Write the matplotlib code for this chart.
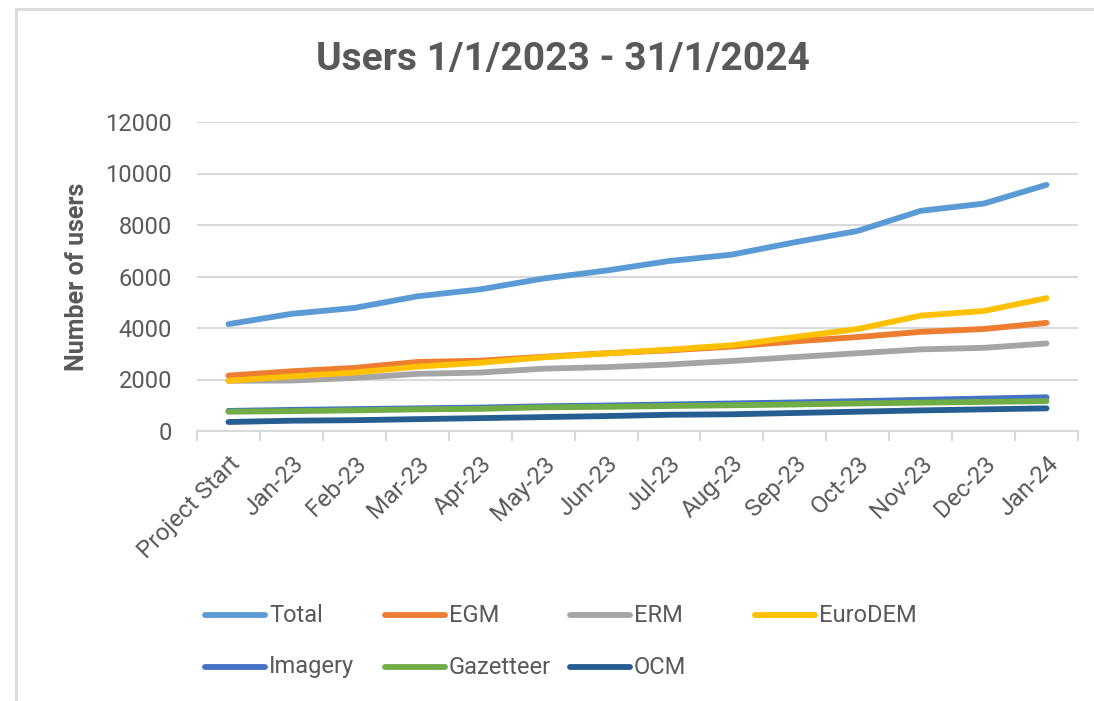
import matplotlib
matplotlib.use("Agg")
import matplotlib.pyplot as plt
from matplotlib.lines import Line2D

plt.rcParams["font.family"] = ["Roboto", "DejaVu Sans"]

# ---------------------------------------------------------------------------
# Data
# ---------------------------------------------------------------------------
months = ["Project Start", "Jan-23", "Feb-23", "Mar-23", "Apr-23", "May-23",
          "Jun-23", "Jul-23", "Aug-23", "Sep-23", "Oct-23", "Nov-23",
          "Dec-23", "Jan-24"]

total     = [4150, 4550, 4780, 5230, 5500, 5920, 6230, 6600, 6850, 7330,
             7770, 8550, 8830, 9560]
egm       = [2150, 2320, 2450, 2680, 2730, 2880, 3020, 3130, 3280, 3480,
             3650, 3850, 3960, 4200]
erm       = [1950, 1960, 2060, 2220, 2270, 2420, 2480, 2580, 2720, 2870,
             3020, 3170, 3230, 3400]
eurodem   = [1950, 2120, 2270, 2500, 2650, 2860, 3010, 3160, 3330, 3650,
             3960, 4480, 4660, 5160]
imagery   = [780, 820, 850, 880, 910, 960, 990, 1030, 1070, 1110, 1160,
             1210, 1260, 1310]
gazetteer = [750, 770, 800, 840, 860, 920, 940, 970, 1000, 1030, 1070,
             1100, 1130, 1160]
ocm       = [350, 400, 420, 460, 500, 540, 580, 630, 650, 700, 750, 800,
             840, 880]

series = [("Total", total, "#5B9BD5"),
          ("EGM", egm, "#ED7D31"),
          ("ERM", erm, "#A5A5A5"),
          ("EuroDEM", eurodem, "#FFC000"),
          ("Imagery", imagery, "#4472C4"),
          ("Gazetteer", gazetteer, "#70AD47"),
          ("OCM", ocm, "#255E91")]

TEXT = "#595959"
GRID = "#D9D9D9"

# ---------------------------------------------------------------------------
# Figure
# ---------------------------------------------------------------------------
W, H = 1094, 701
fig = plt.figure(figsize=(W / 100, H / 100), dpi=100)
ax = fig.add_axes([197 / W, 1 - 431 / H, (1078 - 197) / W, (431 - 122) / H])

x = list(range(len(months)))
for name, vals, color in series:
    ax.plot(x, vals, color=color, lw=4.2, solid_capstyle="round",
            solid_joinstyle="round", label=name)

ax.set_xlim(-0.5, len(months) - 0.5)
ax.set_ylim(0, 12000)
ax.set_yticks(range(0, 12001, 2000))
ax.grid(axis="y", color=GRID, lw=1.5)
ax.set_axisbelow(True)
for s in ["top", "right", "left"]:
    ax.spines[s].set_visible(False)
ax.spines["bottom"].set_color(GRID)
ax.spines["bottom"].set_linewidth(1.5)

ax.tick_params(axis="y", length=0, pad=18, labelsize=17, labelcolor=TEXT)
ax.set_xticks(x)
ax.set_xticklabels(months, rotation=45, ha="right", rotation_mode="anchor",
                   fontsize=17.5, color=TEXT)
ax.tick_params(axis="x", which="major", length=0, pad=15)
# Excel-style tick marks between categories
ax.set_xticks([i - 0.5 for i in range(len(months) + 1)], minor=True)
ax.tick_params(axis="x", which="minor", length=7, width=1.5, color=GRID)

ax.set_ylabel("Number of users", fontsize=18, fontweight="bold", color=TEXT,
              labelpad=12)
fig.text(563 / W, 1 - 60 / H, "Users 1/1/2023 - 31/1/2024", fontsize=28,
         fontweight="bold", color=TEXT, ha="center", va="center")

# Legend laid out on a fixed grid like the Excel one
legend_pos = [(205, 615), (385, 615), (570, 615), (755, 615),
              (205, 667), (385, 667), (570, 667)]
for (name, _, color), (lx, ly) in zip(series, legend_pos):
    fig.add_artist(Line2D([lx / W, (lx + 60) / W], [1 - ly / H, 1 - ly / H],
                          color=color, lw=4.2, solid_capstyle="round"))
    fig.text((lx + 64) / W, 1 - ly / H, name, fontsize=17, color=TEXT,
             ha="left", va="center")

# chart frame (left/top edges visible in the screenshot)
fig.add_artist(Line2D([16 / W, 16 / W], [0, 1 - 9 / H], color=GRID, lw=2))
fig.add_artist(Line2D([16 / W, 1], [1 - 9 / H, 1 - 9 / H], color=GRID, lw=2))

fig.savefig("out.png", dpi=100)
